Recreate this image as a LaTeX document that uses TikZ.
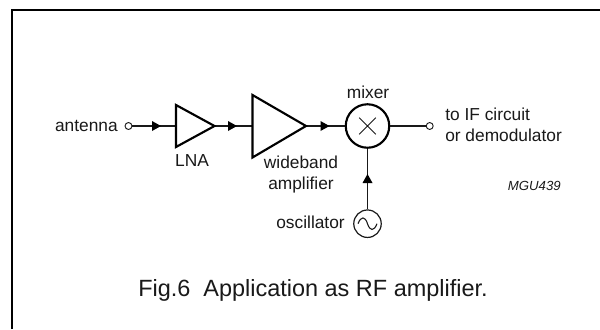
\documentclass[tikz,border=0pt]{standalone}
\usepackage{fontspec}
\setmainfont{Liberation Sans}
\tikzset{
  x=0.75pt,y=-0.75pt,
  wire/.style={line width=1pt,draw=black!90},
  amp/.style={line width=1.6pt,draw=black,line join=miter,fill=white},
  tipfill/.style={fill=black,draw=none},
  term/.style={circle,draw=black!90,line width=0.7pt,fill=white,minimum size=5.2pt,inner sep=0pt},
  lab/.style={font=\fontsize{13pt}{15.75pt}\selectfont,text=black!90,inner sep=0pt},
}
\begin{document}
\begin{tikzpicture}
\useasboundingbox (0,0) rectangle (600,329);
\fill[white] (0,0) rectangle (600,329);
\draw[line width=1.6pt] (12,329) -- (12,10.3) -- (600,10.3);
% nodes
\node[term] (ant) at (128.5,126) {};
\node[lab,anchor=base east] (antl) at (118,131) {antenna};
\coordinate (a1in) at (176,126);
\coordinate (a1out) at (215,126);
\coordinate (a2in) at (252.5,126);
\coordinate (a2out) at (306,126);
\node[circle,draw=black,line width=1.6pt,minimum size=32.6pt,inner sep=0pt] (mix) at (367.5,126) {};
\node[term] (out) at (429.7,126) {};
\node[circle,draw=black!90,line width=0.9pt,minimum size=20.6pt,inner sep=0pt] (osc) at (367.5,223.7) {};
% connectors
\draw[wire] (ant) -- (a1in);
\draw[wire] (a1out) -- (a2in);
\draw[wire] (a2out) -- (mix);
\draw[wire] (mix) -- (out);
\draw[wire] (osc) -- (mix);
% amps
\draw[amp] (176,105) -- (214.5,126) -- (176,147) -- cycle;
\draw[amp] (252.5,95) -- (306,126) -- (252.5,157.5) -- cycle;
% arrowheads
\fill[tipfill] (152,121) -- (161,126) -- (152,131) -- cycle;
\fill[tipfill] (228,121) -- (237,126) -- (228,131) -- cycle;
\fill[tipfill] (320.5,121) -- (329.5,126) -- (320.5,131) -- cycle;
\fill[tipfill] (362.5,183) -- (367.5,174) -- (372.5,183) -- cycle;
% mixer cross
\draw[line width=0.7pt,draw=black!90] (359.2,117.7) -- (375.8,134.3) (359.2,134.3) -- (375.8,117.7);
% sine
\draw[line width=0.8pt,draw=black!90] (358,223.7) .. controls (361,216) and (365,216) .. (367.5,223.7) .. controls (370,231.4) and (374,231.4) .. (377,223.7);
% labels
\node[lab,anchor=base] (mixl) at (368,98) {mixer};
\node[lab,anchor=base] (lna) at (192,166) {LNA};
\node[lab,align=center,anchor=base] (wide) at (301,189) {wideband\\amplifier};
\node[lab,align=left,anchor=base west] (ifc) at (445,141) {to IF circuit\\or demodulator};
\node[lab,anchor=base east] (oscl) at (345,228.3) {oscillator};
\node[lab,anchor=base east,font=\fontsize{9.9pt}{12pt}\selectfont\itshape] (code) at (561,190.5) {MGU439};
\node[lab,anchor=base,font=\fontsize{17.6pt}{20pt}\selectfont] (cap) at (313,296) {Fig.6\hspace{0.55em}Application as RF amplifier.};
\end{tikzpicture}
\end{document}
